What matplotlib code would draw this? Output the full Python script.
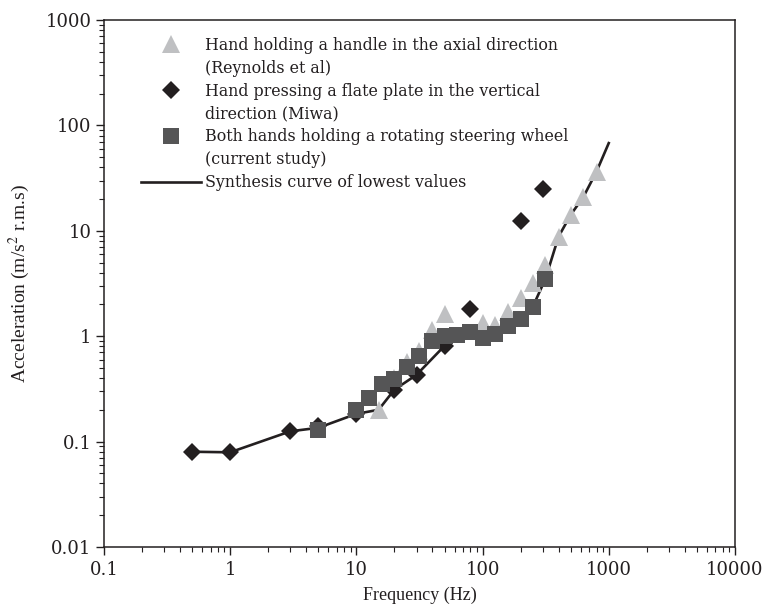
import matplotlib

matplotlib.use("Agg")
import matplotlib.pyplot as plt
from matplotlib.lines import Line2D
from matplotlib.ticker import FixedLocator, FixedFormatter, LogLocator, NullFormatter

plt.rcParams["font.family"] = ["Liberation Serif", "DejaVu Serif"]
plt.rcParams["mathtext.fontset"] = "stix"

# Reynolds et al: hand holding a handle, axial direction
reyn_f = [15, 20, 25, 31.5, 40, 50, 100, 125, 160, 200, 250, 315, 400, 500, 630, 800]
reyn_a = [0.2, 0.4, 0.57, 0.73, 1.15, 1.62, 1.33, 1.29, 1.7, 2.3, 3.2, 4.7, 8.8, 14.2, 21, 36.5]

# Miwa: hand pressing a flat plate, vertical direction
miwa_f = [0.5, 1, 3, 5, 10, 20, 30, 50, 80, 200, 300]
miwa_a = [0.08, 0.08, 0.125, 0.14, 0.183, 0.31, 0.43, 0.81, 1.8, 12.5, 25]

# current study: both hands on a rotating steering wheel
curr_f = [5, 10, 12.5, 16, 20, 25, 31.5, 40, 50, 63, 80, 100, 125, 160, 200, 250, 315]
curr_a = [0.13, 0.2, 0.26, 0.35, 0.39, 0.51, 0.65, 0.9, 1.0, 1.02, 1.1, 0.97, 1.05, 1.25, 1.45, 1.9, 3.5]

# synthesis curve of lowest values
syn_f = [0.5, 1, 3, 5, 10, 15, 20, 30, 50, 63, 80, 100, 125, 160, 200, 250, 315, 400, 500, 630, 800, 1000]
syn_a = [0.08, 0.079, 0.125, 0.135, 0.183, 0.2, 0.31, 0.43, 0.81, 0.97, 1.05, 0.97, 1.05, 1.25,
         1.45, 1.9, 3.5, 8.8, 14.2, 21, 36.5, 68]

x_ticks = [0.1, 1, 10, 100, 1000, 10000]
x_labels = ["0.1", "1", "10", "100", "1000", "10000"]
y_ticks = [0.01, 0.1, 1, 10, 100, 1000]
y_labels = ["0.01", "0.1", "1", "10", "100", "1000"]

C_TRI, C_DIA, C_SQ = "#bfc0c2", "#231f20", "#555556"
INK = "#231f20"
WIDE = ["DejaVu Serif"]

fig = plt.figure(figsize=(7.64, 6.09), dpi=100)
ax = fig.add_axes([0.136, 0.102, 0.826, 0.865])

ax.plot(syn_f, syn_a, "-", color=C_DIA, lw=1.9, zorder=2)
ax.plot(reyn_f, reyn_a, "^", color=C_TRI, ms=13, mew=0, ls="none", zorder=3)
ax.plot(miwa_f, miwa_a, "D", color=C_DIA, ms=9.5, mew=0, ls="none", zorder=4)
ax.plot(curr_f, curr_a, "s", color=C_SQ, ms=11.5, mew=0, ls="none", zorder=5)

ax.set_xscale("log")
ax.set_yscale("log")
ax.set_xlim(0.1, 10000)
ax.set_ylim(0.01, 1000)
ax.xaxis.set_major_locator(FixedLocator(x_ticks))
ax.xaxis.set_major_formatter(FixedFormatter(x_labels))
ax.yaxis.set_major_locator(FixedLocator(y_ticks))
ax.yaxis.set_major_formatter(FixedFormatter(y_labels))
for axis in (ax.xaxis, ax.yaxis):
    axis.set_minor_locator(LogLocator(base=10, subs=range(2, 10), numticks=20))
    axis.set_minor_formatter(NullFormatter())
ax.tick_params(which="major", direction="out", length=6, width=1, colors=INK, pad=4)
ax.tick_params(which="minor", direction="out", length=3.5, width=0.8, colors=INK)
for lab in ax.get_xticklabels() + ax.get_yticklabels():
    lab.set_family(WIDE)
    lab.set_fontsize(13)
ax.tick_params(axis="y", pad=3)
for sp in ax.spines.values():
    sp.set_color(INK)
    sp.set_linewidth(1.1)

ax.set_xlabel("Frequency (Hz)", fontsize=13, color=INK, labelpad=6)
ax.set_ylabel("Acceleration (m/s$^2$ r.m.s)", fontsize=14, color=INK, labelpad=10)

blank = Line2D([], [], ls="none", marker=None)
handles = [
    Line2D([], [], ls="none", marker="^", color=C_TRI, ms=13, mew=0), blank,
    Line2D([], [], ls="none", marker="D", color=C_DIA, ms=9.5, mew=0), blank,
    Line2D([], [], ls="none", marker="s", color=C_SQ, ms=11.5, mew=0), blank,
    Line2D([], [], ls="-", color=C_DIA, lw=1.9),
]
labels = [
    "Hand holding a handle in the axial direction", "(Reynolds et al)",
    "Hand pressing a flate plate in the vertical", "direction (Miwa)",
    "Both hands holding a rotating steering wheel", "(current study)",
    "Synthesis curve of lowest values",
]
leg = ax.legend(handles, labels, loc="upper left", bbox_to_anchor=(0.058, 0.968), frameon=False,
                prop={"family": WIDE, "size": 11.4}, handlelength=3.8, handletextpad=0.25,
                labelspacing=0.37, borderpad=0, borderaxespad=0, labelcolor=INK)

fig.savefig("out.png", dpi=100)
